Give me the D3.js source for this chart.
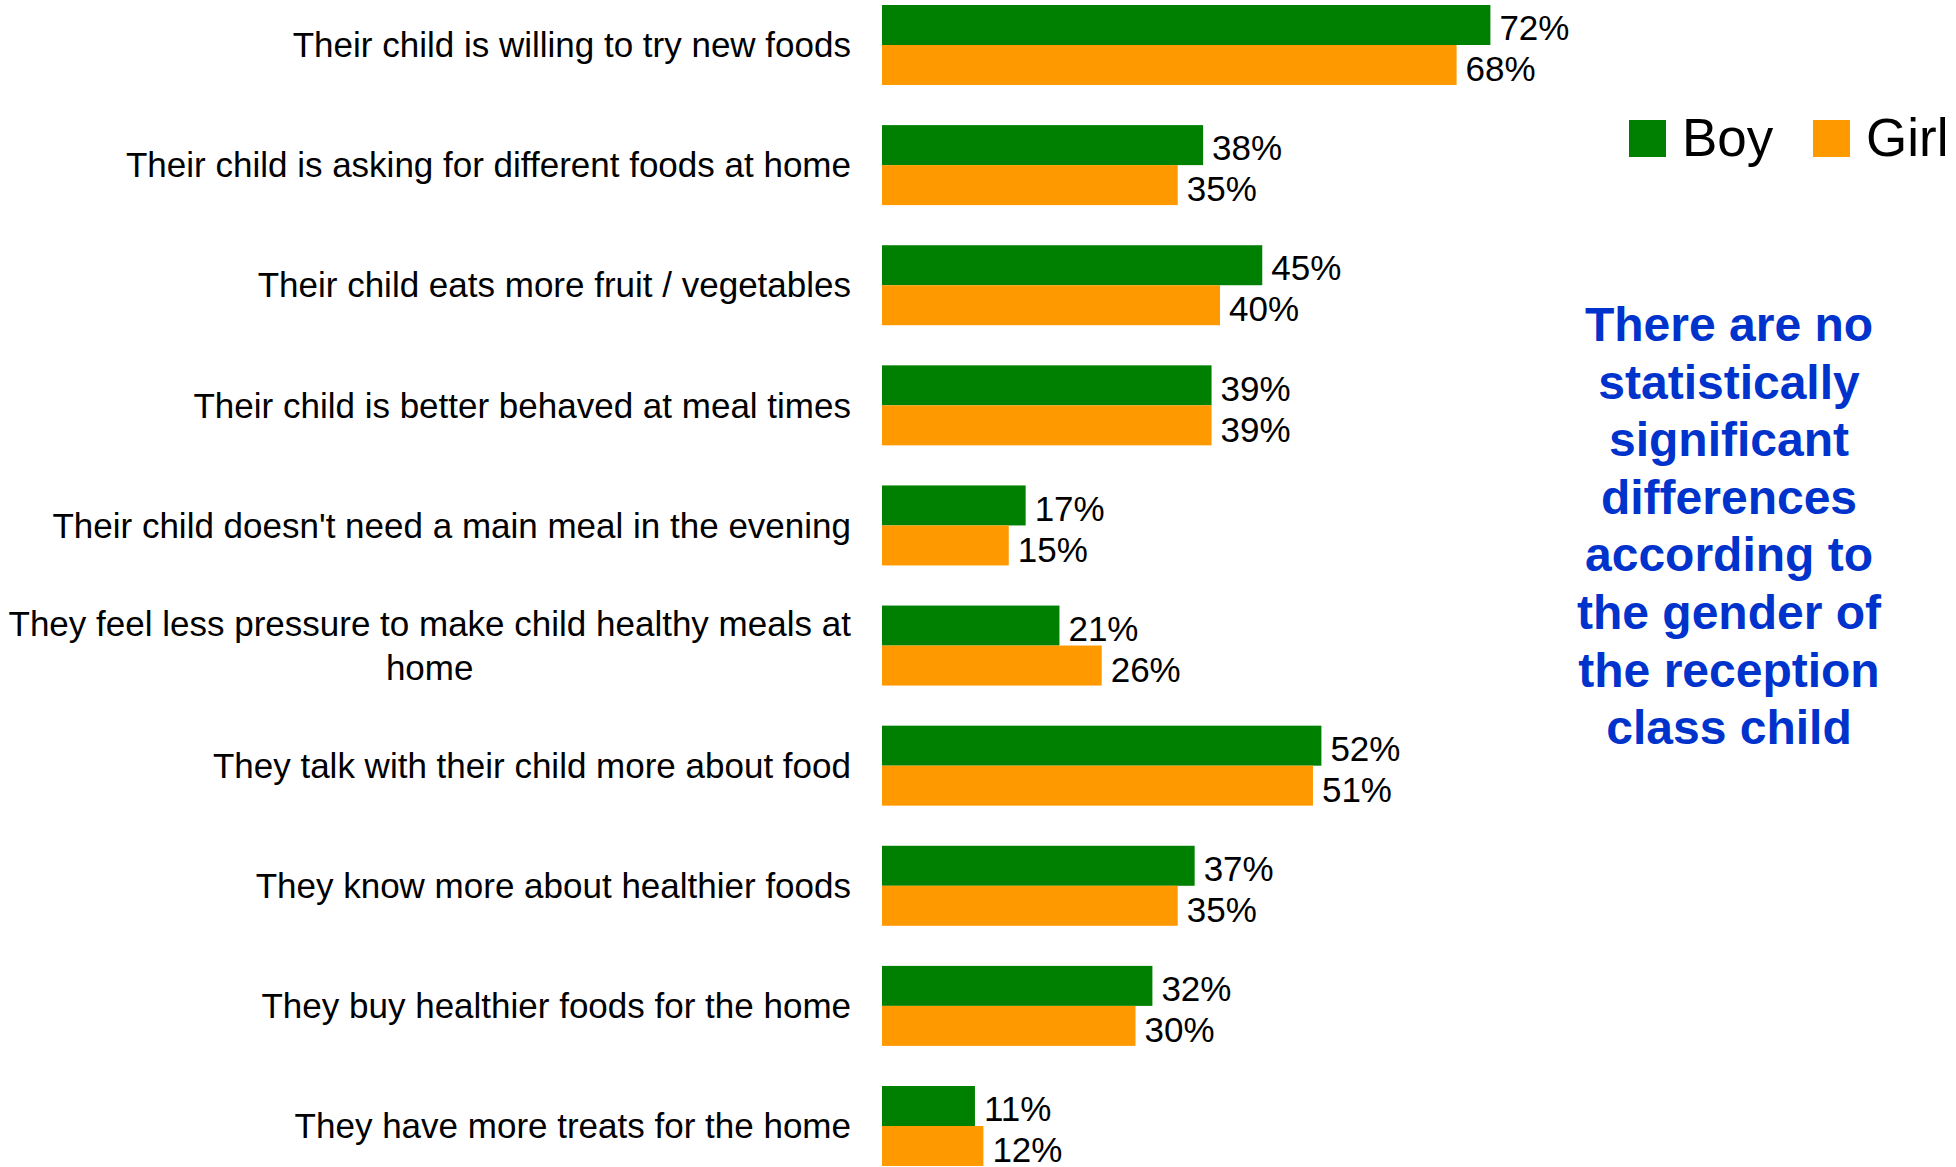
<!DOCTYPE html>
<html>
<head>
<meta charset="utf-8">
<script src="https://cdn.jsdelivr.net/npm/d3@7"></script>
<style>
  html, body { margin: 0; padding: 0; background: #fff; }
  svg { display: block; }
  text { font-family: "Liberation Sans", Arial, sans-serif; }
</style>
</head>
<body>
<svg id="chart" width="1956" height="1167"></svg>
<script>
// Reported effects of the programme, split by gender of the child (%)
const categories = [
  "Their child is willing to try new foods",
  "Their child is asking for different foods at home",
  "Their child eats more fruit / vegetables",
  "Their child is better behaved at meal times",
  "Their child doesn't need a main meal in the evening",
  "They feel less pressure to make child healthy meals at\nhome",
  "They talk with their child more about food",
  "They know more about healthier foods",
  "They buy healthier foods for the home",
  "They have more treats for the home"
];
const seriesNames = ["Boy", "Girl"];
const boyValues  = [72, 38, 45, 39, 17, 21, 52, 37, 32, 11];
const girlValues = [68, 35, 40, 39, 15, 26, 51, 35, 30, 12];
const noteLines = [
  "There are no",
  "statistically",
  "significant",
  "differences",
  "according to",
  "the gender of",
  "the reception",
  "class child"
];

const colors = { Boy: "#008000", Girl: "#FF9900" };
const seriesValues = { Boy: boyValues, Girl: girlValues };

const svg = d3.select("#chart");

const x = d3.scaleLinear().domain([0, 100]).range([882, 1727]);
const y = d3.scaleBand().domain(categories).range([5, 1166])
  .paddingInner(0.334).paddingOuter(0);
const ySub = d3.scaleBand().domain(seriesNames).range([0, y.bandwidth()]);

const rows = categories.map((c, i) => ({
  cat: c,
  values: seriesNames.map(s => ({ series: s, value: seriesValues[s][i] }))
}));

const group = svg.append("g").selectAll("g.row")
  .data(rows).join("g")
  .attr("class", "row")
  .attr("transform", d => `translate(0,${y(d.cat)})`);

group.selectAll("rect")
  .data(d => d.values).join("rect")
  .attr("x", x(0))
  .attr("y", d => ySub(d.series))
  .attr("width", d => x(d.value) - x(0))
  .attr("height", ySub.bandwidth())
  .attr("fill", d => colors[d.series]);

// value labels sit just right of each bar end
const labelShift = { Boy: 3, Girl: 4 };
group.selectAll("text.val")
  .data(d => d.values).join("text")
  .attr("class", "val")
  .attr("x", d => x(d.value) + 9)
  .attr("y", d => ySub(d.series) + ySub.bandwidth() / 2 + labelShift[d.series])
  .attr("dy", "0.35em")
  .attr("font-size", 35)
  .attr("fill", "#000")
  .text(d => d.value + "%");

// category labels, right-aligned; wrapped labels are centred line by line
const catG = svg.append("g").selectAll("g.cat")
  .data(categories).join("g")
  .attr("class", "cat");

catG.each(function (c) {
  const lines = c.split("\n");
  const g = d3.select(this);
  const cy = y(c) + y.bandwidth() / 2;
  const lh = 44;
  const t = g.append("text")
    .attr("font-size", 35)
    .attr("fill", "#000");
  lines.forEach((ln, i) => {
    t.append("tspan")
      .attr("x", 0)
      .attr("y", cy + (i - (lines.length - 1) / 2) * lh)
      .attr("dy", "0.35em")
      .text(ln);
  });
  if (lines.length === 1) {
    t.attr("text-anchor", "end").selectAll("tspan").attr("x", 851);
  } else {
    const w = t.node().getBBox().width;
    t.attr("text-anchor", "middle").selectAll("tspan").attr("x", 851 - w / 2);
  }
});

// legend
const legend = svg.append("g").attr("class", "legend");
const legendX = { Boy: 1629, Girl: 1813 };
seriesNames.forEach(s => {
  legend.append("rect")
    .attr("x", legendX[s]).attr("y", 120)
    .attr("width", 37).attr("height", 37)
    .attr("fill", colors[s]);
  legend.append("text")
    .attr("x", legendX[s] + 53).attr("y", 156)
    .attr("font-size", 53)
    .attr("fill", "#000")
    .text(s);
});

// note on significance
svg.append("text")
  .attr("text-anchor", "middle")
  .attr("font-size", 48)
  .attr("font-weight", "bold")
  .attr("fill", "#0033CC")
  .selectAll("tspan")
  .data(noteLines).join("tspan")
  .attr("x", 1729)
  .attr("y", (d, i) => 341 + i * 57.6)
  .text(d => d);
</script>
</body>
</html>
